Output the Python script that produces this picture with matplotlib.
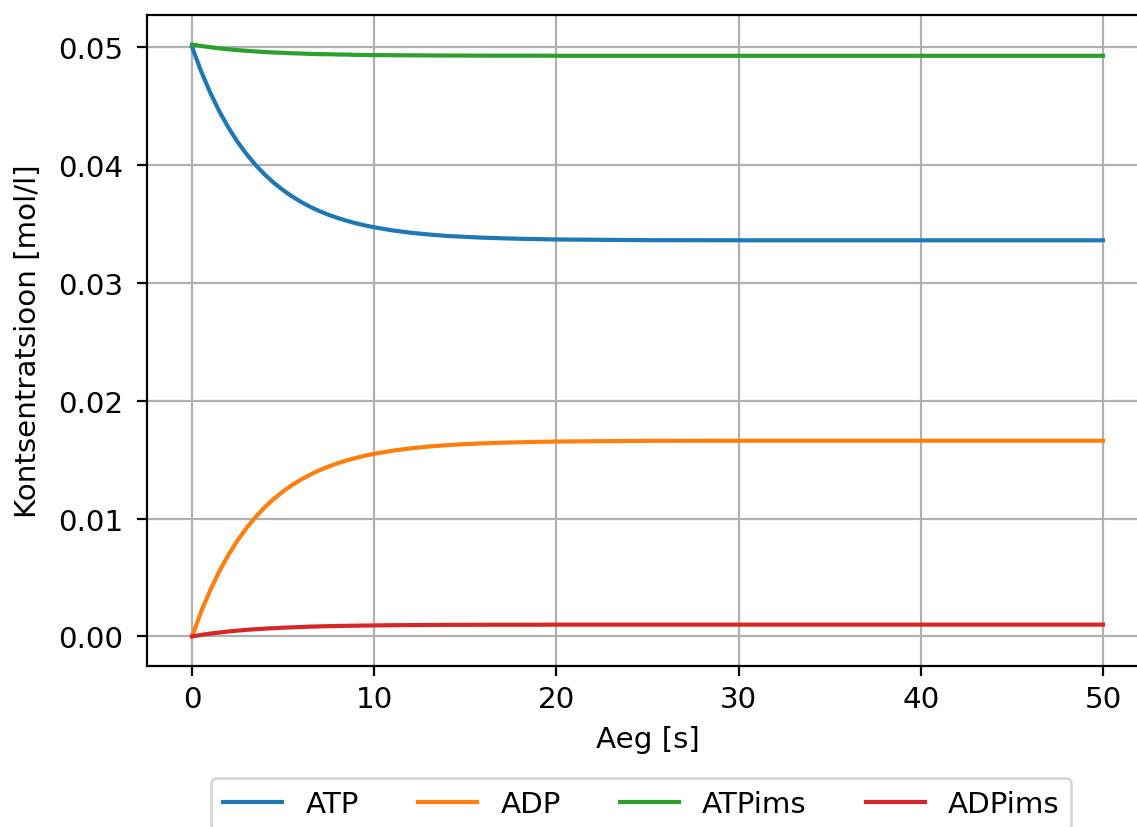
import matplotlib
matplotlib.use("Agg")
import matplotlib.pyplot as plt

# Concentrations
t = [0, 0.5, 1, 1.5, 2, 2.5, 3, 3.5, 4, 4.5, 5, 5.5, 6, 6.5, 7, 7.5, 8, 8.5, 9, 9.5,
     10, 11, 12, 13, 14, 15, 16, 17, 18, 19, 20, 25, 30, 35, 40, 45, 50]
atp = [0.05000, 0.04793, 0.04612, 0.04453, 0.04315, 0.04194, 0.04089, 0.03997, 0.03916, 0.03846,
       0.03785, 0.03731, 0.03684, 0.03643, 0.03607, 0.03576, 0.03549, 0.03525, 0.03504, 0.03486,
       0.03470, 0.03444, 0.03424, 0.03409, 0.03397, 0.03389, 0.03382, 0.03377, 0.03373, 0.03370,
       0.03367, 0.03361, 0.03360, 0.03360, 0.03360, 0.03360, 0.03360]
adp = [0.00000, 0.00210, 0.00393, 0.00553, 0.00693, 0.00815, 0.00922, 0.01015, 0.01097, 0.01168,
       0.01230, 0.01285, 0.01332, 0.01373, 0.01410, 0.01441, 0.01469, 0.01493, 0.01514, 0.01533,
       0.01549, 0.01575, 0.01595, 0.01611, 0.01622, 0.01631, 0.01638, 0.01643, 0.01647, 0.01650,
       0.01653, 0.01659, 0.01660, 0.01660, 0.01660, 0.01660, 0.01660]
atp_ims = [0.05020, 0.05008, 0.04998, 0.04988, 0.04980, 0.04973, 0.04967, 0.04962, 0.04957, 0.04953,
           0.04950, 0.04946, 0.04944, 0.04941, 0.04939, 0.04938, 0.04936, 0.04935, 0.04933, 0.04932,
           0.04931, 0.04930, 0.04929, 0.04928, 0.04927, 0.04927, 0.04926, 0.04926, 0.04926, 0.04926,
           0.04925, 0.04925, 0.04925, 0.04925, 0.04925, 0.04925, 0.04925]
adp_ims = [0.00000, 0.00013, 0.00024, 0.00033, 0.00042, 0.00049, 0.00056, 0.00061, 0.00066, 0.00070,
           0.00074, 0.00077, 0.00080, 0.00083, 0.00085, 0.00087, 0.00088, 0.00090, 0.00091, 0.00092,
           0.00093, 0.00095, 0.00096, 0.00097, 0.00098, 0.00098, 0.00099, 0.00099, 0.00099, 0.00099,
           0.00100, 0.00100, 0.00100, 0.00100, 0.00100, 0.00100, 0.00100]
labels = ["ATP", "ADP", "ATPims", "ADPims"]

plt.rcParams["font.size"] = 10.6

fig = plt.figure(figsize=(1137 / 200, 828 / 200), dpi=200)
# the reference is cropped on the right, so the axes run past the edge
ax = fig.add_axes([146.5 / 1137, 161 / 828, 1002 / 1137, 651 / 828])

for y, lab in zip([atp, adp, atp_ims, adp_ims], labels):
    ax.plot(t, y, label=lab)

ax.set_xlabel("Aeg [s]")
ax.set_ylabel("Kontsentratsioon [mol/l]", labelpad=5.5)
ax.tick_params(axis="y", pad=5)
ax.grid(True)
ax.legend(loc="upper center", bbox_to_anchor=(0.494, -0.15), ncol=4)

fig.savefig("out.png", dpi=200)
